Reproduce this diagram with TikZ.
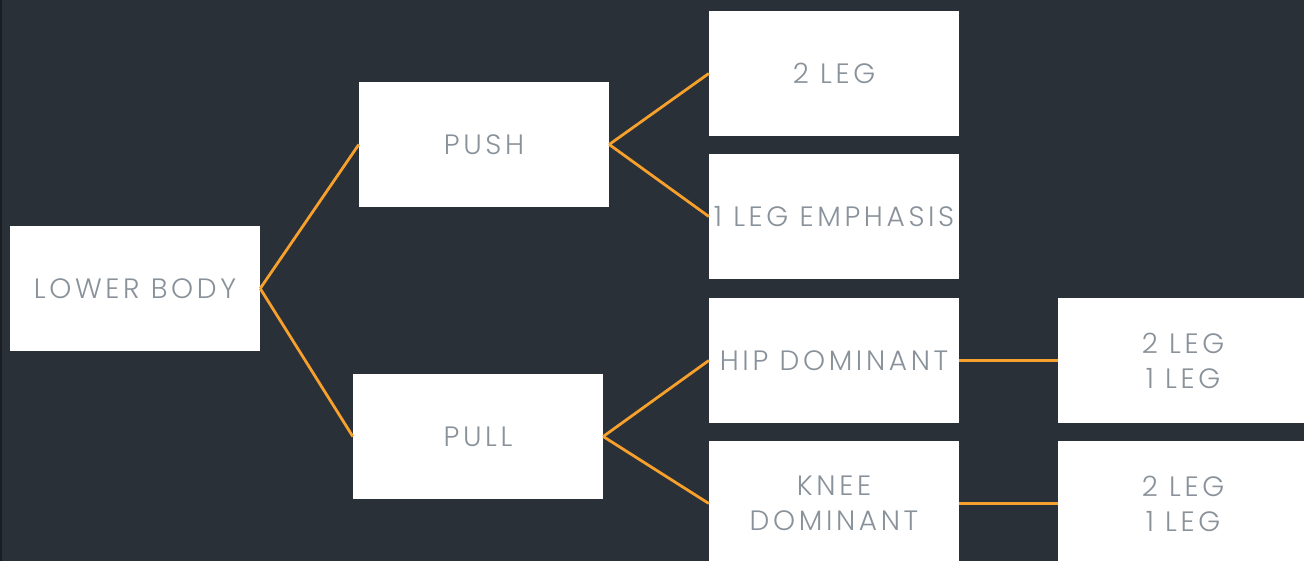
\documentclass[tikz,border=0pt]{standalone}
\usepackage{fontspec}
\setmainfont{Poppins}[UprightFont=* Light,LetterSpace=13]
\definecolor{bg}{HTML}{2A3038}
\definecolor{edge}{HTML}{1A1E23}
\definecolor{txt}{HTML}{89929A}
\definecolor{link}{HTML}{F7A12C}
\begin{document}
\begin{tikzpicture}[x=1bp,y=-1bp,
  box/.style={fill=white,draw=none,minimum width=250bp,minimum height=125bp,inner sep=0pt,
    text=txt,font=\fontsize{28bp}{35bp}\selectfont,align=center},
  link/.style={draw=link,line width=2.8bp}]
\fill[bg] (0,0) rectangle (1304,561);
\fill[edge] (0,0) rectangle (2,561);
\useasboundingbox (0,0) rectangle (1304,561);
\clip (0,0) rectangle (1304,561);
\node[box] (lb) at (135,288.5) {LOWER BODY};
\node[box] (push) at (484,144.5) {PUSH};
\node[box] (pull) at (478,436.5) {PULL};
\node[box] (two) at (834,73.5) {2 LEG};
\node[box] (one) at (834,216.5) {1 LEG EMPHASIS};
\node[box] (hip) at (834,360.5) {HIP DOMINANT};
\node[box] (knee) at (834,503.5) {KNEE\\DOMINANT};
\node[box] (hipr) at (1183,360.5) {2 LEG\\1 LEG};
\node[box] (kneer) at (1183,503.5) {2 LEG\\1 LEG};
\draw[link] (lb.east) -- (push.west);
\draw[link] (lb.east) -- (pull.west);
\draw[link] (push.east) -- (two.west);
\draw[link] (push.east) -- (one.west);
\draw[link] (pull.east) -- (hip.west);
\draw[link] (pull.east) -- (knee.west);
\draw[link] (hip.east) -- (hipr.west);
\draw[link] (knee.east) -- (kneer.west);
\end{tikzpicture}
\end{document}
